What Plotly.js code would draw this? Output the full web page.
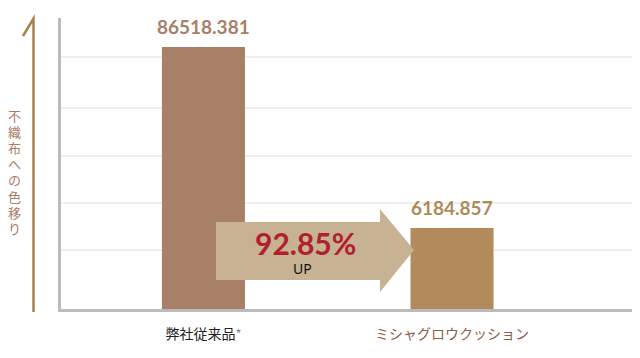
<!DOCTYPE html>
<html><head><meta charset="utf-8">
<script src="https://cdn.plot.ly/plotly-3.0.1.min.js"></script>
<style>html,body{margin:0;padding:0;background:#fff}#c{width:640px;height:358px}</style>
</head><body><div id="c"></div>
<script>
// ---- data ----
const categories = ["弊社従来品", "ミシャグロウクッション"];
const values = [86518.381, 6184.857];
const valueLabels = ["86518.381", "6184.857"];
const improvementText = "92.85%";
const improvementSub = "UP";
const yTitle = "不織布への色移り";

// ---- style ----
const barColors = ["#A88068", "#B38A5B"];
const labelColors = ["#A88068", "#B08A5A"];
const tickColors = ["#222222", "#8C5E4C"];
const W = 640, H = 358, L = 61, R = 8, T = 18, B = 49;
const pw = W - L - R, ph = H - T - B;
const px = x => (x - L) / pw;
const py = y => (H - B - y) / ph;
const gridYs = [57, 108, 156, 203, 250];

const shapes = gridYs.map(y => ({type:'line', xref:'paper', yref:'paper', x0:0, x1:1, y0:py(y), y1:py(y),
  line:{color:'#DDDDDD', width:1}, layer:'below'}));
// decorative arrow
shapes.push({type:'path', xref:'paper', yref:'paper', layer:'above', line:{width:0}, fillcolor:'#C8B294',
  path:`M ${px(216)} ${py(222)} L ${px(380)} ${py(222)} L ${px(380)} ${py(209)} L ${px(414)} ${py(250)} L ${px(380)} ${py(292)} L ${px(380)} ${py(280)} L ${px(216)} ${py(280)} Z`});
// left axis arrow line
shapes.push({type:'path', xref:'paper', yref:'paper', line:{color:'#A28452', width:2.5},
  path:`M ${px(33.5)} ${py(312)} L ${px(33.5)} ${py(18.5)} L ${px(23)} ${py(36)}`});

const yr = [3.2785, 5.1207];

const annotations = [];
values.forEach((v, i) => {
  annotations.push({x: categories[i], y: Math.log10(v), xref:'x', yref:'y', text: valueLabels[i],
    showarrow:false, yanchor:'bottom', xanchor:'center', yshift:7,
    font:{family:'Lato, "Noto Sans", sans-serif', size:19, color:labelColors[i], weight:'bold'}});
});
annotations.push({xref:'paper', yref:'paper', x:px(305), y:py(243), xanchor:'center', yanchor:'middle',
  text:improvementText, showarrow:false,
  font:{family:'Lato, "Noto Sans", sans-serif', size:30, color:'#B2202E', weight:'bold'}});
annotations.push({xref:'paper', yref:'paper', x:px(302), y:py(268), xanchor:'center', yanchor:'middle',
  text:improvementSub, showarrow:false,
  font:{family:'"Noto Sans", sans-serif', size:14, color:'#111111'}});
yTitle.split('').forEach((ch, i) => {
  annotations.push({xref:'paper', yref:'paper', x:px(14), y:py(115 + i * 16.2), xanchor:'center', yanchor:'middle',
    text: ch, showarrow:false, borderpad:0,
    font:{family:'"Noto Sans CJK JP", sans-serif', size:13, color:'#A87E66'}});
});

const tickText = categories.map((c, i) => i === 0
  ? `<span style="color:${tickColors[0]}">${c}</span><span style="color:#888;font-size:13px">*</span>`
  : `<span style="color:${tickColors[1]}">${c}</span>`);

Plotly.newPlot('c', [{
  type:'bar', x:categories, y:values,
  width:0.334, marker:{color:barColors}, hoverinfo:'none'
}], {
  width:W, height:H, margin:{l:L, r:R, t:T, b:B},
  paper_bgcolor:'#fff', plot_bgcolor:'#fff', showlegend:false,
  xaxis:{type:'category', range:[-0.573, 1.724], showline:true, linecolor:'#BBBBBB', linewidth:3,
    showgrid:false, ticks:'', tickvals:categories, ticktext:tickText, zeroline:false, ticklabelstandoff:10,
    tickfont:{family:'"Noto Sans CJK JP", sans-serif', size:14}},
  yaxis:{type:'log', range:yr, showline:true, linecolor:'#BBBBBB', linewidth:3, showgrid:false,
    showticklabels:false, ticks:'', zeroline:false},
  shapes, annotations
}, {staticPlot:true});
</script></body></html>
